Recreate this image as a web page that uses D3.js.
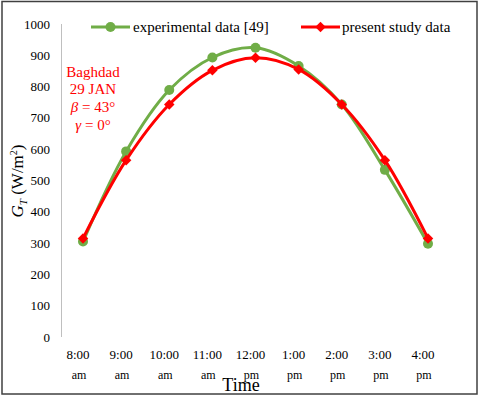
<!DOCTYPE html>
<meta charset="utf-8">
<style>
body{margin:0;background:#fff;}
text{font-family:"Liberation Serif","Times New Roman",serif;fill:#000;}
</style>
<body>
<script src="https://cdn.jsdelivr.net/npm/d3@7"></script>
<script>

var times=['8:00','9:00','10:00','11:00','12:00','1:00','2:00','3:00','4:00'];
var periods=['am','am','am','am','pm','pm','pm','pm','pm'];
var experimental=[305,593,789,893,924,866,743,534,298];
var present=[315,565,743,852,892,855,743,565,315];
var yTicks=[0,100,200,300,400,500,600,700,800,900,1000];

var W=480,H=398;
var svg=d3.select("body").append("svg").attr("width",W).attr("height",H);

svg.append("rect").attr("x",2).attr("y",1.5).attr("width",475).attr("height",392.5)
	.attr("fill","#fff").attr("stroke","#404040").attr("stroke-width",1.5);

var x=d3.scalePoint().domain(times).range([83,428]);
var y=d3.scaleLinear().domain([0,1000]).range([337,24]);

// y axis line
svg.append("line").attr("x1",61.5).attr("x2",61.5).attr("y1",y(1000)).attr("y2",y(0))
	.attr("stroke","#bfbfbf").attr("stroke-width",1);

svg.selectAll(".ytick").data(yTicks).enter().append("text").attr("class","ytick")
	.attr("x",50).attr("y",d=>y(d)+4.5)
	.attr("text-anchor","end").style("font-size","13px")
	.text(d=>d);

// x tick labels
svg.selectAll(".xtime").data(times).enter().append("text").attr("class","xtime")
	.attr("x",d=>x(d)-5).attr("y",359)
	.attr("text-anchor","middle").style("font-size","13px")
	.text(d=>d);
svg.selectAll(".xper").data(periods).enter().append("text").attr("class","xper")
	.attr("x",(d,i)=>x(times[i])-4).attr("y",379)
	.attr("text-anchor","middle").style("font-size","12px")
	.text(d=>d);

svg.append("text").attr("x",241).attr("y",391).attr("text-anchor","middle")
	.style("font-size","18px").text("Time");

// y title
var yt=svg.append("text").attr("transform","translate(23,181) rotate(-90)")
	.attr("text-anchor","middle").style("font-size","17px");
yt.append("tspan").style("font-style","italic").text("G");
yt.append("tspan").style("font-style","italic").style("font-size","11px").attr("dy",4).text("T");
yt.append("tspan").attr("dy",-4).text(" (W/m");
yt.append("tspan").style("font-size","10px").attr("dy",-6).text("2");
yt.append("tspan").attr("dy",6).text(")");

// annotation
var ann=svg.append("g");
ann.append("text").attr("x",93).attr("y",77).attr("text-anchor","middle")
	.style("font-size","15px").style("fill","#ff0000").text("Baghdad");
ann.append("text").attr("x",93).attr("y",94).attr("text-anchor","middle")
	.style("font-size","15px").style("fill","#ff0000").text("29 JAN");
var b=ann.append("text").attr("x",93).attr("y",112).attr("text-anchor","middle")
	.style("font-size","15px").style("fill","#ff0000");
b.append("tspan").style("font-style","italic").text("β");
b.append("tspan").text(" = 43°");
var g2=ann.append("text").attr("x",93).attr("y",130).attr("text-anchor","middle")
	.style("font-size","15px").style("fill","#ff0000");
g2.append("tspan").style("font-style","italic").text("γ");
g2.append("tspan").text(" = 0°");

var green="#70ad47", red="#ff0000";
var line=d3.line().x((d,i)=>x(times[i])).y(d=>y(d)).curve(d3.curveCatmullRom.alpha(0.5));

svg.append("path").datum(experimental).attr("d",line)
	.attr("fill","none").attr("stroke",green).attr("stroke-width",3);
svg.selectAll(".expPt").data(experimental).enter().append("circle").attr("class","expPt")
	.attr("cx",(d,i)=>x(times[i])).attr("cy",d=>y(d)).attr("r",5).attr("fill",green);

svg.append("path").datum(present).attr("d",line)
	.attr("fill","none").attr("stroke",red).attr("stroke-width",3);
var diamond=d3.symbol().type(d3.symbolDiamond2).size(70);
svg.selectAll(".prePt").data(present).enter().append("path").attr("class","prePt")
	.attr("transform",(d,i)=>"translate("+x(times[i])+","+y(d)+")")
	.attr("d",diamond).attr("fill",red);

// legend
var lg=svg.append("g");
lg.append("line").attr("x1",91).attr("x2",130).attr("y1",27).attr("y2",27)
	.attr("stroke",green).attr("stroke-width",3);
lg.append("circle").attr("cx",110.5).attr("cy",27).attr("r",5).attr("fill",green);
lg.append("text").attr("x",133).attr("y",32).style("font-size","15px").text("experimental data [49]");
lg.append("line").attr("x1",301).attr("x2",340).attr("y1",27).attr("y2",27)
	.attr("stroke",red).attr("stroke-width",3);
lg.append("path").attr("transform","translate(320.5,27)").attr("d",diamond).attr("fill",red);
lg.append("text").attr("x",342).attr("y",32).style("font-size","15px").text("present study data");

</script>
</body>
</html>
